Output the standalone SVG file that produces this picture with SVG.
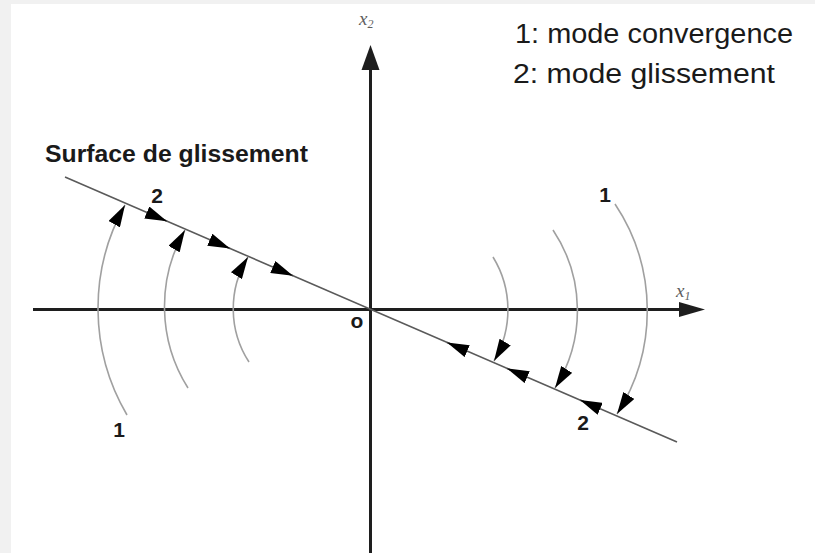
<svg xmlns="http://www.w3.org/2000/svg" width="815" height="553" viewBox="0 0 815 553">
<defs>
<style>
.axis{stroke:#1e1e1e;stroke-width:3;fill:none}
.head{fill:#1e1e1e}
.surf{stroke:#5a5a5a;stroke-width:1.6;fill:none}
.arc{stroke:#a0a0a0;stroke-width:1.6;fill:none}
.seg{stroke:#5a5a5a;stroke-width:1.6;fill:none}
.num{font-family:"Liberation Sans",Arial,sans-serif;font-weight:bold;font-size:21px;fill:#1a1a1a;text-anchor:middle}
.leg{font-family:"Liberation Sans",Arial,sans-serif;font-size:27px;fill:#1a1a1a}
.math{font-family:"Liberation Serif","Times New Roman",serif;font-style:italic;fill:#5e5e5e}
</style>
<marker id="ah" markerUnits="userSpaceOnUse" viewBox="0 0 22 13" refX="22" refY="6.5" markerWidth="22" markerHeight="13" orient="auto">
<path d="M0,0 L22,6.5 L0,13 z" fill="#000"/>
</marker>
</defs>
<rect x="0" y="0" width="815" height="553" fill="#f1f1f1"/>
<rect x="11" y="4" width="804" height="549" fill="#ffffff"/>

<g id="axes">
<line class="axis" x1="33" y1="309.5" x2="682" y2="309.5"/>
<polygon class="head" points="679,302 705,309.5 679,317"/>
<line class="axis" x1="370.5" y1="553" x2="370.5" y2="66"/>
<polygon class="head" points="361.5,70 370.5,45 379.5,70"/>
<text class="math" x="359" y="25" font-size="19">x<tspan font-size="12" dy="3">2</tspan></text>
<text class="math" x="676" y="297" font-size="19">x<tspan font-size="12" dy="3">1</tspan></text>
<text class="num" x="357" y="328">o</text>
</g>

<g id="surface">
<line class="surf" x1="65" y1="177" x2="677" y2="442"/>
<text x="45" y="162" font-family="'Liberation Sans',Arial,sans-serif" font-weight="bold" font-size="23" fill="#1a1a1a" textLength="263" lengthAdjust="spacingAndGlyphs">Surface de glissement</text>
</g>

<g id="connectors">
<!-- left convergence arcs -->
<path class="arc" d="M127,415 A211,211 0 0 1 125,205" marker-end="url(#ah)"/>
<path class="arc" d="M188,388 A153,153 0 0 1 185,230" marker-end="url(#ah)"/>
<path class="arc" d="M249,362 A98,98 0 0 1 248,257" marker-end="url(#ah)"/>
<!-- right convergence arcs -->
<path class="arc" d="M615,204 A192,192 0 0 1 617,414" marker-end="url(#ah)"/>
<path class="arc" d="M553,230 A145,145 0 0 1 555,388" marker-end="url(#ah)"/>
<path class="arc" d="M493,257 A101,101 0 0 1 494,361" marker-end="url(#ah)"/>
<!-- sliding arrows left -->
<path class="seg" d="M146.8,212.5 L167,221.2" marker-end="url(#ah)"/>
<path class="seg" d="M209.8,239.7 L230,248.4" marker-end="url(#ah)"/>
<path class="seg" d="M272.8,267 L293,275.7" marker-end="url(#ah)"/>
<!-- sliding arrows right -->
<path class="seg" d="M467.2,351.1 L447,342.4" marker-end="url(#ah)"/>
<path class="seg" d="M527.2,377.1 L507,368.4" marker-end="url(#ah)"/>
<path class="seg" d="M600.2,408.7 L580,400" marker-end="url(#ah)"/>
</g>

<g id="labels">
<text class="num" x="157" y="203">2</text>
<text class="num" x="605" y="202">1</text>
<text class="num" x="119" y="437">1</text>
<text class="num" x="583" y="430">2</text>
<text class="leg" x="515" y="43" textLength="278" lengthAdjust="spacingAndGlyphs">1: mode convergence</text>
<text class="leg" x="513" y="83" textLength="262" lengthAdjust="spacingAndGlyphs">2: mode glissement</text>
</g>
</svg>
